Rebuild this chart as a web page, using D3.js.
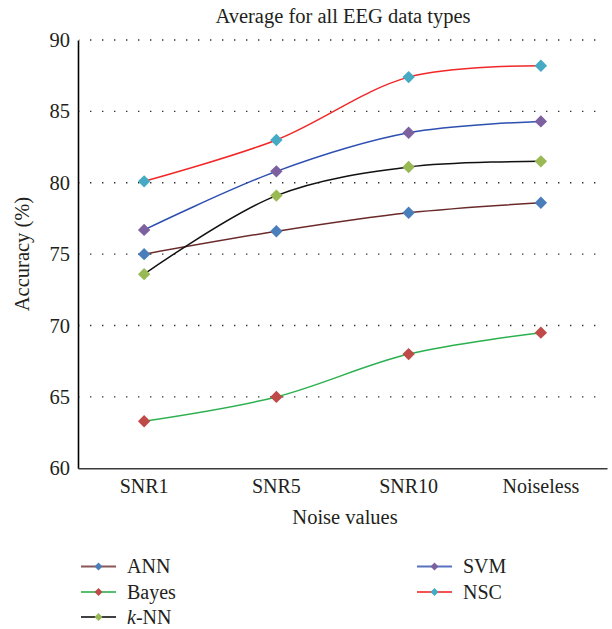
<!DOCTYPE html>
<html>
<head>
<meta charset="utf-8">
<script src="https://cdn.jsdelivr.net/npm/d3@7"></script>
<style>
  html, body { margin: 0; padding: 0; background: #fff; }
  svg text { font-family: "Liberation Serif", "Times New Roman", serif; fill: #231f20; }
</style>
</head>
<body>
<svg id="chart" width="612" height="629"></svg>
<script>
const categories = ["SNR1", "SNR5", "SNR10", "Noiseless"];
const seriesNames = ["ANN", "Bayes", "k-NN", "SVM", "NSC"];
const annValues   = [75.0, 76.6, 77.9, 78.6];
const bayesValues = [63.3, 65.0, 68.0, 69.5];
const knnValues   = [73.6, 79.1, 81.1, 81.5];
const svmValues   = [76.7, 80.8, 83.5, 84.3];
const nscValues   = [80.1, 83.0, 87.4, 88.2];
const yTicks = [60, 65, 70, 75, 80, 85, 90];
const titleText = "Average for all EEG data types";
const xTitle = "Noise values";
const yTitle = "Accuracy (%)";

const lineColors   = ["#6b2a2a", "#2bb04f", "#111111", "#2d4fb0", "#f02828"];
const markerColors = ["#4a7ebb", "#be4b48", "#98b954", "#7d60a0", "#46aac5"];

const series = [annValues, bayesValues, knnValues, svmValues, nscValues].map((v, i) => ({
  name: seriesNames[i], values: v, line: lineColors[i], marker: markerColors[i]
}));

(function () {
const svg = d3.select("#chart");
const pL = 78, pR = 607, pT = 40, pB = 468.3;

const x = d3.scaleBand().domain(categories).range([pL, pR]).paddingInner(0).paddingOuter(0);
const y = d3.scaleLinear().domain([60, 90]).range([pB, pT]);
const cx = c => x(c) + x.bandwidth() / 2;

// gridlines
svg.append("g").selectAll("line").data(yTicks.filter(t => t > 60)).join("line")
  .attr("x1", pL + 1).attr("x2", pR - 2)
  .attr("y1", d => y(d)).attr("y2", d => y(d))
  .attr("stroke", "#333").attr("stroke-width", 1.4)
  .attr("stroke-dasharray", "1.4,10.6").attr("stroke-dashoffset", -11);

// y axis
const yAxis = svg.append("g").attr("transform", `translate(${pL},0)`)
  .call(d3.axisLeft(y).tickValues(yTicks).tickSize(0).tickPadding(8));
yAxis.select(".domain").attr("stroke", "#000").attr("stroke-width", 1.6);
yAxis.selectAll("text").style("font-size", "20.5px").attr("fill", "#231f20");

// x axis
const xAxis = svg.append("g").attr("transform", `translate(0,${pB})`)
  .call(d3.axisBottom(x).tickSize(0).tickPadding(11));
xAxis.select(".domain").attr("stroke", "#3a3a3a").attr("stroke-width", 1.6);
xAxis.selectAll("text").style("font-size", "20px").attr("fill", "#231f20");

// titles
svg.append("text").attr("x", 343).attr("y", 23).attr("text-anchor", "middle")
  .style("font-size", "20.5px").text(titleText);
svg.append("text").attr("x", 345).attr("y", 524).attr("text-anchor", "middle")
  .style("font-size", "20.5px").text(xTitle);
svg.append("text").attr("transform", "translate(29,254) rotate(-90)").attr("text-anchor", "middle")
  .style("font-size", "20.5px").text(yTitle);

// lines
const line = d3.line().x((d, i) => cx(categories[i])).y(d => y(d)).curve(d3.curveCatmullRom.alpha(0.5));
const diamond = (r) => `M0,${-r}L${r},0L0,${r}L${-r},0Z`;

const g = svg.append("g");
series.forEach(s => {
  g.append("path").datum(s.values).attr("d", line)
    .attr("fill", "none").attr("stroke", s.line).attr("stroke-width", 1.5);
});
series.forEach(s => {
  g.append("g").selectAll("path").data(s.values).join("path")
    .attr("d", diamond(6.2))
    .attr("transform", (d, i) => `translate(${cx(categories[i])},${y(d)})`)
    .attr("fill", s.marker);
});

// legend
const legendPos = [
  {lx: 81, ly: 566.5}, {lx: 81, ly: 592}, {lx: 81, ly: 617},
  {lx: 417, ly: 566.5}, {lx: 417, ly: 592}
];
const leg = svg.append("g");
series.forEach((s, i) => {
  const p = legendPos[i];
  const item = leg.append("g").attr("transform", `translate(${p.lx},${p.ly})`);
  item.append("line").attr("x1", 0).attr("x2", 35).attr("y1", 0).attr("y2", 0)
    .attr("stroke", s.line).attr("stroke-width", 2).attr("stroke-opacity", 0.8);
  item.append("path").attr("d", diamond(4)).attr("transform", "translate(17.5,0)").attr("fill", s.marker);
  const t = item.append("text").attr("x", 46).attr("y", 6.5).style("font-size", "20px");
  if (s.name === "k-NN") {
    t.append("tspan").style("font-style", "italic").text("k");
    t.append("tspan").text("-NN");
  } else {
    t.text(s.name);
  }
});
})();
</script>
</body>
</html>
